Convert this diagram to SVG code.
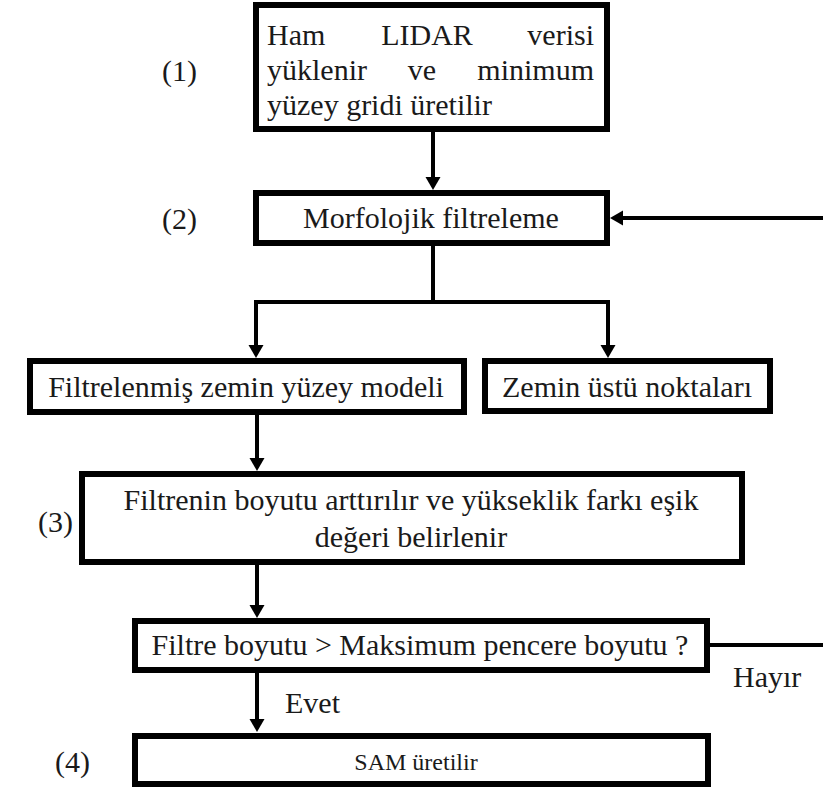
<svg xmlns="http://www.w3.org/2000/svg" width="823" height="789" viewBox="0 0 823 789" font-family="'Liberation Serif', 'Times New Roman', Times, serif">
<style>
.box{fill:#fff;stroke:#000;stroke-width:6}
.t{font-family:'Liberation Serif','Times New Roman',Times,serif;font-size:30px;fill:#1a1a1a}
.c{text-anchor:middle}
.e{text-anchor:end}
.con{fill:none;stroke:#000;stroke-width:4;stroke-linejoin:miter}
</style>
<defs>
<marker id="ah" markerUnits="userSpaceOnUse" markerWidth="16" markerHeight="16" refX="5" refY="7.5" orient="auto">
<path d="M0,0 L13,7.5 L0,15 z" fill="#000"/>
</marker>
</defs>
<rect width="823" height="789" fill="#fff"/>
<g id="connectors">
<path class="con" d="M433,132 V182" marker-end="url(#ah)"/>
<path class="con" d="M823,218 H618" marker-end="url(#ah)"/>
<path class="con" d="M433,246 V302"/>
<path class="con" d="M433,302 H256 V350" marker-end="url(#ah)"/>
<path class="con" d="M433,302 H608 V350" marker-end="url(#ah)"/>
<path class="con" d="M257,415 V463" marker-end="url(#ah)"/>
<path class="con" d="M257,565 V610" marker-end="url(#ah)"/>
<path class="con" d="M257,673 V724" marker-end="url(#ah)"/>
<path class="con" d="M710,645 H823"/>
<text class="t" x="285" y="713">Evet</text>
<text class="t" x="733" y="687">Hayır</text>
</g>
<g id="labels">
<text class="t" x="162" y="81">(1)</text>
<text class="t" x="162" y="229">(2)</text>
<text class="t" x="38" y="532">(3)</text>
<text class="t" x="55" y="772">(4)</text>
</g>
<g id="n1">
<rect class="box" x="256" y="5" width="351" height="124"/>
<text class="t" x="267" y="45">Ham</text>
<text class="t c" x="427" y="45">LIDAR</text>
<text class="t e" x="594" y="45">verisi</text>
<text class="t" x="267" y="80">yüklenir</text>
<text class="t c" x="422" y="80">ve</text>
<text class="t e" x="594" y="80">minimum</text>
<text class="t" x="267" y="115">yüzey gridi üretilir</text>
</g>
<g id="n2">
<rect class="box" x="256" y="193" width="351" height="50"/>
<text class="t c" x="431" y="228">Morfolojik filtreleme</text>
</g>
<g id="n3">
<rect class="box" x="30" y="361" width="434" height="51"/>
<text class="t c" x="246" y="397">Filtrelenmiş zemin yüzey modeli</text>
</g>
<g id="n4">
<rect class="box" x="485" y="361" width="285" height="50"/>
<text class="t c" x="627" y="397">Zemin üstü noktaları</text>
</g>
<g id="n5">
<rect class="box" x="82" y="474" width="660" height="88"/>
<text class="t c" x="411" y="510">Filtrenin boyutu arttırılır ve yükseklik farkı eşik</text>
<text class="t c" x="411" y="547">değeri belirlenir</text>
</g>
<g id="n6">
<rect class="box" x="135" y="621" width="572" height="49"/>
<text class="t c" x="420" y="655">Filtre boyutu &gt; Maksimum pencere boyutu ?</text>
</g>
<g id="n7">
<rect class="box" x="135" y="736" width="573" height="48"/>
<text class="t c" x="416" y="770" style="font-size:24px">SAM üretilir</text>
</g>
</svg>
